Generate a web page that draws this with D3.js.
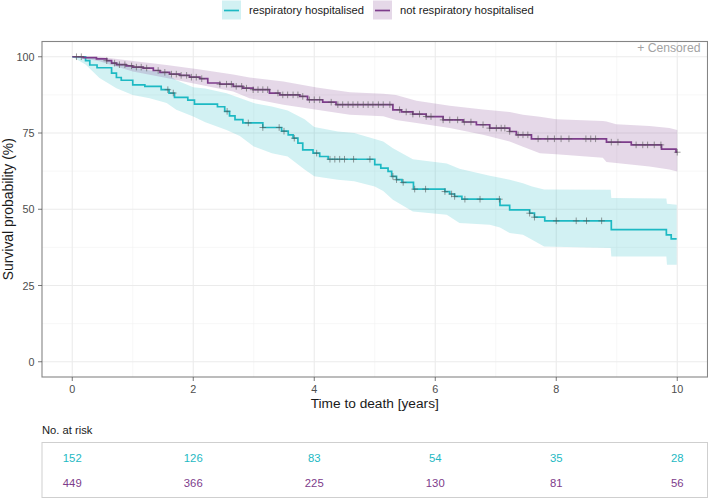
<!DOCTYPE html>
<html><head><meta charset="utf-8">
<script src="https://cdn.jsdelivr.net/npm/d3@7"></script>
<style>body{margin:0;background:#fff}svg{display:block;font-family:"Liberation Sans",Arial,sans-serif}</style>
</head><body><svg id="c" width="708" height="500"></svg>
<script>
// ---- data ----
const groups = ["respiratory hospitalised", "not respiratory hospitalised"];
const colors = ["#1DB9C3", "#7D3C8B"];

// Kaplan-Meier steps: time (years) and survival (%)
const tealTimes = [0,0.22,0.29,0.41,0.65,0.73,0.81,1.0,1.2,1.47,1.60,1.69,1.91,2.02,2.40,2.52,2.60,2.69,2.82,3.15,3.46,3.57,3.65,3.73,3.81,3.98,4.09,4.23,5.0,5.10,5.22,5.28,5.36,5.45,5.64,6.16,6.24,6.32,6.44,7.07,7.23,7.56,7.64,7.81,8.91,9.82,9.90,9.99];
const tealSurv  = [100,98.7,97.3,96.4,94.6,93.2,92.3,90.8,90.3,89.2,88.1,86.7,85.8,84.5,83.6,82.1,80.6,79.4,78.3,76.8,75.6,74.4,73.3,71.7,69.5,68.4,67.3,66.4,64.6,63.5,62.4,60.8,59.7,58.8,56.6,55.8,55.0,54.2,53.3,51.3,49.8,48.7,47.4,46.2,43.3,41.6,40.3,40.3];
const tealCensor = [1.58,1.67,2.56,2.91,3.15,3.42,3.50,3.67,4.04,4.26,4.34,4.42,4.50,4.65,4.92,5.30,5.36,5.47,5.66,5.84,6.16,6.27,6.32,6.49,6.74,7.06,7.56,7.64,8.0,8.33,8.5,8.75];
const tealBandTimes = [0,0.22,0.45,0.73,1.0,1.28,1.56,1.72,2.0,2.2,2.55,2.77,3.0,3.3,3.56,3.84,4.0,4.39,4.66,5.0,5.14,5.3,5.63,6.19,6.4,6.9,7.07,7.23,7.45,7.6,7.8,8.9,8.91,9.82,9.83,9.99];
const tealLower = [100,97.5,93,89.7,87.5,86.4,84.8,82.6,80.4,78.5,76,74,70.6,68.4,67.3,63,60.8,59.7,59.2,57.5,56,53.1,49.3,48.2,45.5,44.9,44,42.2,41.6,40,37.8,37.3,34.5,34.5,31.8,31.8];
const tealUpper = [100,100,99.5,98.2,96.5,95.5,94.5,92.3,90,89.6,88,86.5,84.8,83.7,82.4,79.5,77,75.5,75,73,72.2,70,66.4,65,63.3,61,60.3,59.7,58.5,57.5,56.5,56.4,53.7,53.5,51.8,51.5];

const purpTimes = [0,0.18,0.40,0.57,0.65,0.73,0.89,1.0,1.17,1.34,1.45,1.61,1.78,1.94,2.11,2.24,2.44,2.66,2.82,2.99,3.26,3.43,3.76,3.89,4.14,4.36,5.30,5.44,5.63,5.85,6.13,6.46,6.68,6.90,7.23,7.34,7.59,8.83,9.24,9.74,9.98,10.0];
const purpSurv  = [100,99.7,99.3,98.7,97.9,97.4,97.0,96.6,96.3,95.5,94.9,94.3,93.9,93.3,92.8,91.4,91.0,90.3,89.7,89.2,88.1,87.5,87.0,85.9,85.1,84.3,82.6,81.9,81.2,80.4,79.3,78.6,77.7,76.6,75.5,74.4,73.1,72.0,71.1,69.7,68.7,68.7];
const purpCensor = [0.07,0.15,0.57,0.70,0.78,0.87,0.98,1.06,1.14,1.23,1.42,1.53,1.64,1.72,1.80,1.89,1.97,2.05,2.14,2.44,2.55,2.63,2.71,2.80,2.88,2.99,3.07,3.15,3.23,3.40,3.48,3.56,3.65,3.73,3.81,3.92,4.0,4.09,4.28,4.39,4.47,4.56,4.64,4.72,4.81,4.89,4.97,5.06,5.14,5.25,5.41,5.52,5.63,5.74,5.85,5.93,6.13,6.24,6.37,6.48,6.59,6.79,6.90,7.01,7.09,7.15,7.23,7.37,7.45,7.53,7.70,7.86,7.97,8.08,8.21,8.49,8.57,8.65,8.91,9.02,9.32,9.43,9.51,9.62,9.73,10.0];
const purpBandTimes = [0,0.2,0.45,1.0,1.56,2.11,2.66,2.93,3.49,4.04,4.59,5.14,5.35,5.69,6.24,6.79,7.23,7.45,7.73,8.0,8.77,8.83,8.99,9.54,9.87,10.0];
const purpLower = [100,99.4,98.5,95.2,93.0,90.8,88.6,86.4,84.3,82.6,81.0,80.5,79.3,78.3,76.6,74.4,72.2,70.5,68.4,68.0,66.9,65.5,65.2,64.0,63.0,62.4];
const purpUpper = [100,100,100,98.6,97.3,95.8,94.2,93.2,91.9,89.9,88.4,87.9,87.5,85.6,83.9,82.7,81.9,81.0,80.3,79.5,78.9,78.8,77.9,77.3,76.6,76.0];

const xTicks = [0,2,4,6,8,10];
const yTicks = [0,25,50,75,100];
const riskTeal = [152,126,83,54,35,28];
const riskPurp = [449,366,225,130,81,56];

// ---- layout ----
const svg = d3.select("#c");
const P = {l:42, r:707.5, t:41.5, b:377};
const x = d3.scaleLinear().domain([-0.5,10.5]).range([P.l,P.r]);
const y = d3.scaleLinear().domain([-5,105]).range([P.b,P.t]);

// grid
const g = svg.append("g");
const minorX = [1,3,5,7,9];
const minorY = [12.5,37.5,62.5,87.5];
g.selectAll(".mx").data(minorX).join("line").attr("x1",d=>x(d)).attr("x2",d=>x(d)).attr("y1",P.t).attr("y2",P.b).attr("stroke","#F2F2F2").attr("stroke-width",0.6);
g.selectAll(".my").data(minorY).join("line").attr("y1",d=>y(d)).attr("y2",d=>y(d)).attr("x1",P.l).attr("x2",P.r).attr("stroke","#F2F2F2").attr("stroke-width",0.6);
g.selectAll(".Mx").data(xTicks).join("line").attr("x1",d=>x(d)).attr("x2",d=>x(d)).attr("y1",P.t).attr("y2",P.b).attr("stroke","#EBEBEB").attr("stroke-width",1.1);
g.selectAll(".My").data(yTicks).join("line").attr("y1",d=>y(d)).attr("y2",d=>y(d)).attr("x1",P.l).attr("x2",P.r).attr("stroke","#EBEBEB").attr("stroke-width",1.1);

// ribbons
const area = d3.area().x(d=>x(d[0])).y0(d=>y(d[1])).y1(d=>y(d[2]));
const tealBand = tealBandTimes.map((t,i)=>[t,tealLower[i],tealUpper[i]]);
const purpBand = purpBandTimes.map((t,i)=>[t,purpLower[i],purpUpper[i]]);
svg.append("path").attr("d",area(tealBand)).attr("fill",colors[0]).attr("fill-opacity",0.2);
svg.append("path").attr("d",area(purpBand)).attr("fill",colors[1]).attr("fill-opacity",0.2);

// lines
const line = d3.line().curve(d3.curveStepAfter).x(d=>x(d[0])).y(d=>y(d[1]));
const tealPts = tealTimes.map((t,i)=>[t,tealSurv[i]]);
const purpPts = purpTimes.map((t,i)=>[t,purpSurv[i]]);
svg.append("path").attr("d",line(tealPts)).attr("fill","none").attr("stroke",colors[0]).attr("stroke-width",1.7);
svg.append("path").attr("d",line(purpPts)).attr("fill","none").attr("stroke",colors[1]).attr("stroke-width",1.7);

// censor marks
const bis = d3.bisector(d=>d).right;
function survAt(times,surv,t){const i=Math.max(0,bis(times,t)-1);return surv[i];}
function drawCensor(times,surv,cens){
  const s=svg.append("g").attr("stroke","#555").attr("stroke-opacity",0.75).attr("stroke-width",0.8);
  cens.forEach(t=>{const cx=x(t),cy=y(survAt(times,surv,t));
    s.append("line").attr("x1",cx-3.3).attr("x2",cx+3.3).attr("y1",cy).attr("y2",cy);
    s.append("line").attr("x1",cx).attr("x2",cx).attr("y1",cy-3.3).attr("y2",cy+3.3);});
}
drawCensor(tealTimes,tealSurv,tealCensor);
drawCensor(purpTimes,purpSurv,purpCensor);

// panel border
svg.append("rect").attr("x",P.l).attr("y",P.t).attr("width",P.r-P.l).attr("height",P.b-P.t).attr("fill","none").attr("stroke","#858585").attr("stroke-width",1.1);

// axes ticks and labels
const ax = svg.append("g").attr("font-size",10.8).attr("fill","#4D4D4D");
xTicks.forEach(v=>{
  svg.append("line").attr("x1",x(v)).attr("x2",x(v)).attr("y1",P.b).attr("y2",P.b+4).attr("stroke","#555").attr("stroke-width",0.8);
  ax.append("text").attr("x",x(v)).attr("y",392.5).attr("text-anchor","middle").text(v);
});
yTicks.forEach(v=>{
  svg.append("line").attr("x1",P.l-4).attr("x2",P.l).attr("y1",y(v)).attr("y2",y(v)).attr("stroke","#555").attr("stroke-width",0.8);
  ax.append("text").attr("x",P.l-7.5).attr("y",y(v)+4).attr("text-anchor","end").text(v);
});
svg.append("text").attr("x",(P.l+P.r)/2).attr("y",408).attr("text-anchor","middle").attr("font-size",13.7).attr("fill","#1a1a1a").text("Time to death [years]");
svg.append("text").attr("transform",`translate(12.5,${(P.t+P.b)/2}) rotate(-90)`).attr("text-anchor","middle").attr("font-size",13.9).attr("fill","#1a1a1a").text("Survival probability (%)");

svg.append("text").attr("x",700.5).attr("y",52).attr("text-anchor","end").attr("font-size",12.2).attr("fill","#A3A3A3").text("+ Censored");

// legend
const lg = svg.append("g").attr("font-size",11.2).attr("fill","#1a1a1a");
const legX = [222, 373];
groups.forEach((name,i)=>{
  lg.append("rect").attr("x",legX[i]).attr("y",0.5).attr("width",19).attr("height",19).attr("fill",colors[i]).attr("fill-opacity",0.2);
  lg.append("line").attr("x1",legX[i]+2).attr("x2",legX[i]+17).attr("y1",10.5).attr("y2",10.5).attr("stroke",colors[i]).attr("stroke-width",1.7);
  lg.append("text").attr("x",legX[i]+27).attr("y",14.3).text(name);
});

// risk table
svg.append("text").attr("x",P.l).attr("y",434).attr("font-size",11.2).attr("fill","#1a1a1a").text("No. at risk");
svg.append("rect").attr("x",P.l).attr("y",442.5).attr("width",P.r-P.l).attr("height",55).attr("fill","#fff").attr("stroke","#CFCFCF").attr("stroke-width",1);
const rt = svg.append("g").attr("font-size",11.3).attr("text-anchor","middle");
xTicks.forEach((v,i)=>{
  rt.append("text").attr("x",x(v)).attr("y",462).attr("fill",colors[0]).text(riskTeal[i]);
  rt.append("text").attr("x",x(v)).attr("y",487).attr("fill",colors[1]).text(riskPurp[i]);
});
</script></body></html>
